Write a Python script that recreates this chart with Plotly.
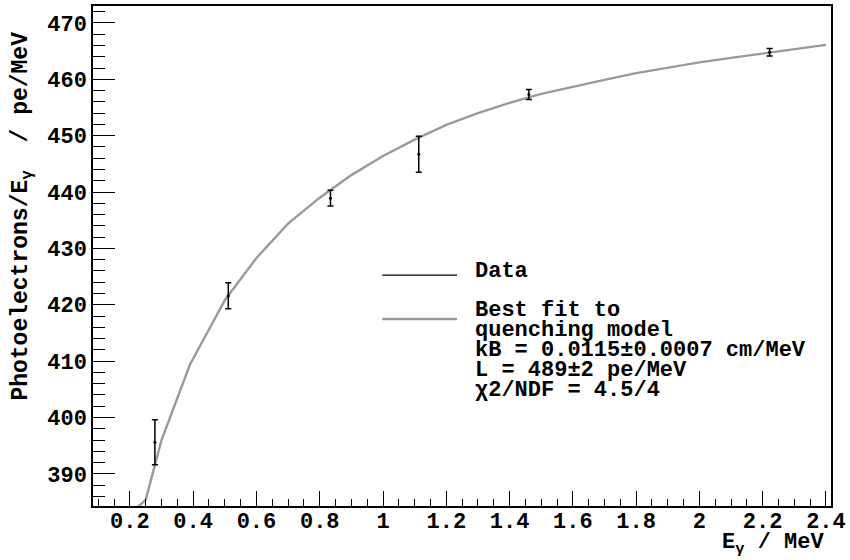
import plotly.graph_objects as go

# Measured light yield per gamma energy
energy = [0.279, 0.511, 0.834, 1.113, 1.461, 2.222]
yield_pe = [395.6, 421.6, 438.9, 446.7, 457.3, 464.8]
yield_err = [4.0, 2.3, 1.4, 3.2, 0.9, 0.65]

# Best-fit quenching model curve
fit_energy = [0.20, 0.25, 0.30, 0.39, 0.50, 0.60, 0.70, 0.80, 0.90, 1.00, 1.10, 1.20,
              1.30, 1.40, 1.50, 1.60, 1.70, 1.80, 1.90, 2.00, 2.10, 2.20, 2.30, 2.40]
fit_yield = [382.9, 385.4, 396.0, 409.4, 420.8, 428.3, 434.4, 439.0, 443.0, 446.4, 449.3, 451.9,
             454.0, 455.8, 457.4, 458.7, 459.9, 461.1, 462.1, 463.0, 463.8, 464.6, 465.3, 466.1]

x_ticks = [0.2, 0.4, 0.6, 0.8, 1.0, 1.2, 1.4, 1.6, 1.8, 2.0, 2.2, 2.4]
x_ticktext = ["0.2", "0.4", "0.6", "0.8", "1", "1.2", "1.4", "1.6", "1.8", "2", "2.2", "2.4"]
y_ticks = [390, 400, 410, 420, 430, 440, 450, 460, 470]

legend_lines = ["Data", "Best fit to", "quenching model",
                "kB = 0.0115\u00b10.0007 cm/MeV", "L = 489\u00b12 pe/MeV",
                "\u03c72/NDF = 4.5/4"]

FONT = "Liberation Mono, Courier New, monospace"
W, H = 850, 560
ML, MR, MT, MB = 93, 17, 4, 54
PW, PH = W - ML - MR, H - MT - MB


def px(xp):
    return (xp - ML) / PW


def py(yp):
    return (H - MB - yp) / PH


fig = go.Figure()

fig.add_trace(go.Scatter(
    x=fit_energy, y=fit_yield, mode="lines",
    line=dict(color="#9a9a9a", width=2.4),
    showlegend=False, hoverinfo="skip",
))

fig.add_trace(go.Scatter(
    x=energy, y=yield_pe, mode="markers",
    marker=dict(color="black", size=3),
    error_y=dict(type="data", array=yield_err, color="black", thickness=1.5, width=3),
    showlegend=False,
))

axis_common = dict(
    showgrid=False, zeroline=False, showline=True, linecolor="black", linewidth=1.5,
    mirror=True, ticks="inside", tickcolor="black", tickwidth=1.2,
    tickfont=dict(family=FONT, size=22, color="black", weight="bold"),
)

fig.update_xaxes(
    range=[0.0834, 2.416], tickvals=x_ticks, ticktext=x_ticktext, ticklen=15,
    minor=dict(dtick=0.05, tick0=0.0, ticks="inside", ticklen=7, tickcolor="black", tickwidth=1.2),
    ticklabelstandoff=-6,
    **axis_common,
)
fig.update_yaxes(
    range=[384.3, 473.0], tickvals=y_ticks, ticklen=22,
    minor=dict(dtick=2, tick0=0, ticks="inside", ticklen=12, tickcolor="black", tickwidth=1.2),
    ticklabelstandoff=0,
    **axis_common,
)

annotations = []
title_font = dict(family=FONT, size=23, color="black", weight="bold")
annotations.append(dict(
    text="Photoelectrons/E<sub>\u03b3</sub>\u00a0\u00a0/\u00a0pe/MeV",
    textangle=-90, xref="paper", yref="paper", x=px(22), y=py(28),
    xanchor="center", yanchor="top", showarrow=False, font=title_font,
))
annotations.append(dict(
    text="E<sub>\u03b3</sub> / MeV",
    xref="paper", yref="paper", x=px(828), y=py(544),
    xanchor="right", yanchor="middle", showarrow=False,
    font=dict(family=FONT, size=22, color="black", weight="bold"),
))

line_y = [270.5, 310, 330, 350, 370, 390]
for txt, yy in zip(legend_lines, line_y):
    annotations.append(dict(
        text=txt, xref="paper", yref="paper", x=px(474), y=py(yy),
        xanchor="left", yanchor="middle", showarrow=False,
        font=dict(family=FONT, size=22, color="black", weight="bold"),
    ))

shapes = [
    dict(type="line", xref="paper", yref="paper", x0=px(383), x1=px(458),
         y0=py(274.3), y1=py(274.3), line=dict(color="black", width=1.3)),
    dict(type="line", xref="paper", yref="paper", x0=px(383), x1=px(458),
         y0=py(318.3), y1=py(318.3), line=dict(color="#9a9a9a", width=2.4)),
]

fig.update_layout(
    width=W, height=H,
    margin=dict(l=ML, r=MR, t=MT, b=MB),
    paper_bgcolor="white", plot_bgcolor="white",
    annotations=annotations, shapes=shapes,
    showlegend=False,
)

fig.write_html("out.html")
